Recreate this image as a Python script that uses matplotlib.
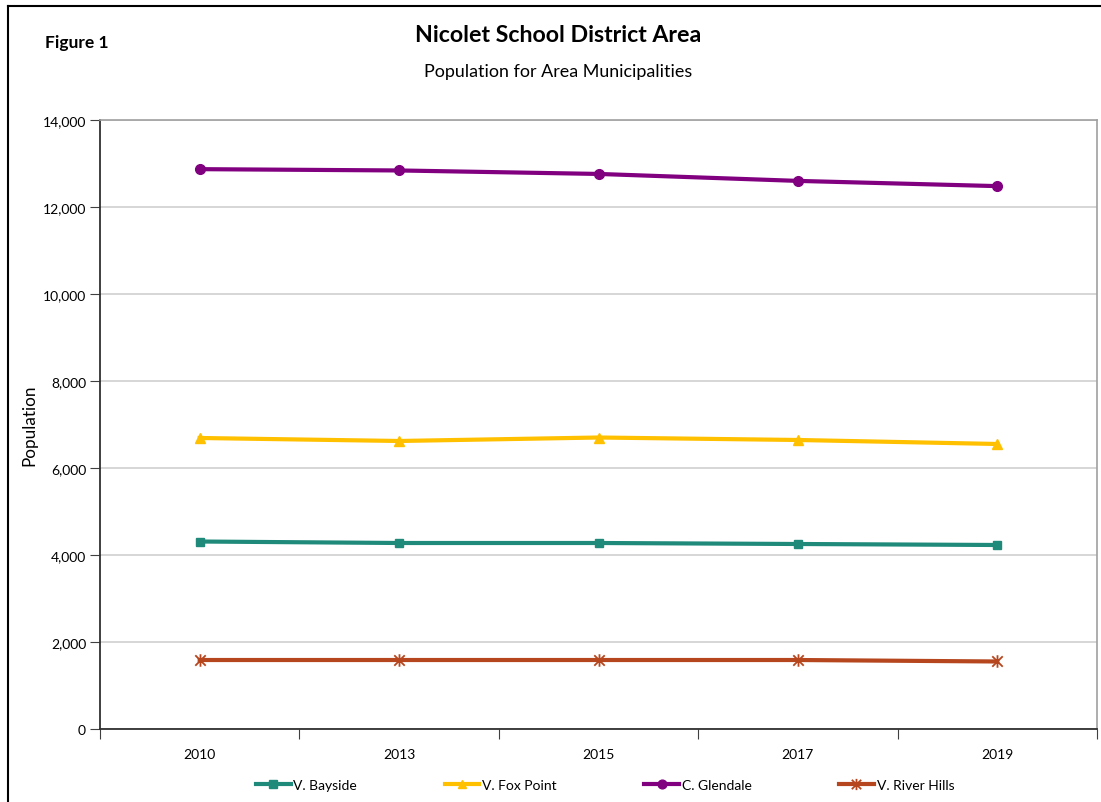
import matplotlib
matplotlib.use("Agg")
import matplotlib.pyplot as plt
from matplotlib.lines import Line2D
from matplotlib.path import Path
from matplotlib.ticker import FuncFormatter, FixedLocator

plt.rcParams["font.family"] = ["Lato", "DejaVu Sans"]

years = ["2010", "2013", "2015", "2017", "2019"]
bayside = [4310, 4276, 4276, 4253, 4230]
fox_point = [6690, 6621, 6701, 6644, 6552]
glendale = [12870, 12840, 12760, 12600, 12480]
river_hills = [1586, 1586, 1586, 1586, 1552]

# Excel-style star marker: an X with a vertical stroke through it
star = Path([(-1, -1), (1, 1), (-1, 1), (1, -1), (0, -1.2), (0, 1.2)],
            [Path.MOVETO, Path.LINETO] * 3)

series = [
    ("V. Bayside", bayside, "#1F8A7A", "s", 6),
    ("V. Fox Point", fox_point, "#FFC000", "^", 7),
    ("C. Glendale", glendale, "#800080", "o", 7),
    ("V. River Hills", river_hills, "#B5461E", star, 9),
]

fig = plt.figure(figsize=(11.01, 8.03), dpi=100)
ax = fig.add_axes([100 / 1101, 73 / 803, 997 / 1101, 609 / 803])

x = list(range(len(years)))
for name, vals, color, marker, ms in series:
    ax.plot(x, vals, color=color, lw=3, marker=marker, markersize=ms,
            markeredgewidth=1.3 if marker is star else 1, label=name, zorder=3)

ax.set_xlim(-0.5, len(years) - 0.5)
ax.set_ylim(0, 14000)
ax.set_yticks(range(0, 14001, 2000))
ax.yaxis.set_major_formatter(FuncFormatter(lambda v, p: f"{int(v):,}"))
ax.xaxis.set_major_locator(FixedLocator([i - 0.5 for i in range(len(years) + 1)]))
ax.set_xticklabels([])
ax.xaxis.set_minor_locator(FixedLocator(x))
ax.set_xticklabels(years, minor=True)
ax.tick_params(axis="x", which="minor", length=0, pad=14, labelsize=10)
ax.tick_params(axis="x", which="major", length=7, direction="out", color="#404040")
ax.tick_params(axis="y", length=7, direction="out", color="#404040", labelsize=10, pad=3)
ax.grid(axis="y", color="#D0D0D0", lw=1.2, zorder=0)
ax.set_axisbelow(True)
for s in ["left", "bottom"]:
    ax.spines[s].set_color("#303030")
    ax.spines[s].set_linewidth(1.3)
for s in ["top", "right"]:
    ax.spines[s].set_color("#A0A0A0")
    ax.spines[s].set_linewidth(1.2)

ax.set_ylabel("Population", fontsize=12.3, labelpad=4)

fig.text(558 / 1101, 1 - 35 / 803, "Nicolet School District Area", ha="center",
         va="center", fontsize=16.7, fontweight="bold")
fig.text(558 / 1101, 1 - 72 / 803, "Population for Area Municipalities", ha="center",
         va="center", fontsize=12.9)
fig.text(45 / 1101, 1 - 43 / 803, "Figure 1", ha="left", va="center",
         fontsize=12.5, fontweight="bold")

handles = [Line2D([], [], color=c, lw=3, marker=m, markersize=ms * 0.9,
                  markeredgewidth=1.3 if m is star else 1)
           for _, _, c, m, ms in series]
fig.legend(handles, [s[0] for s in series], loc="center", ncol=4,
           bbox_to_anchor=(605 / 1101, 1 - 786 / 803), frameon=False,
           fontsize=10, handlelength=2.5, handletextpad=0.2, columnspacing=6.3)

# outer chart border
fig.add_artist(Line2D([8 / 1101, 8 / 1101], [0, 1 - 7 / 803], color="black", lw=1.5,
                      transform=fig.transFigure))
fig.add_artist(Line2D([8 / 1101, 1], [1 - 7 / 803, 1 - 7 / 803], color="black", lw=1.5,
                      transform=fig.transFigure))

fig.savefig("out.png", dpi=100)
